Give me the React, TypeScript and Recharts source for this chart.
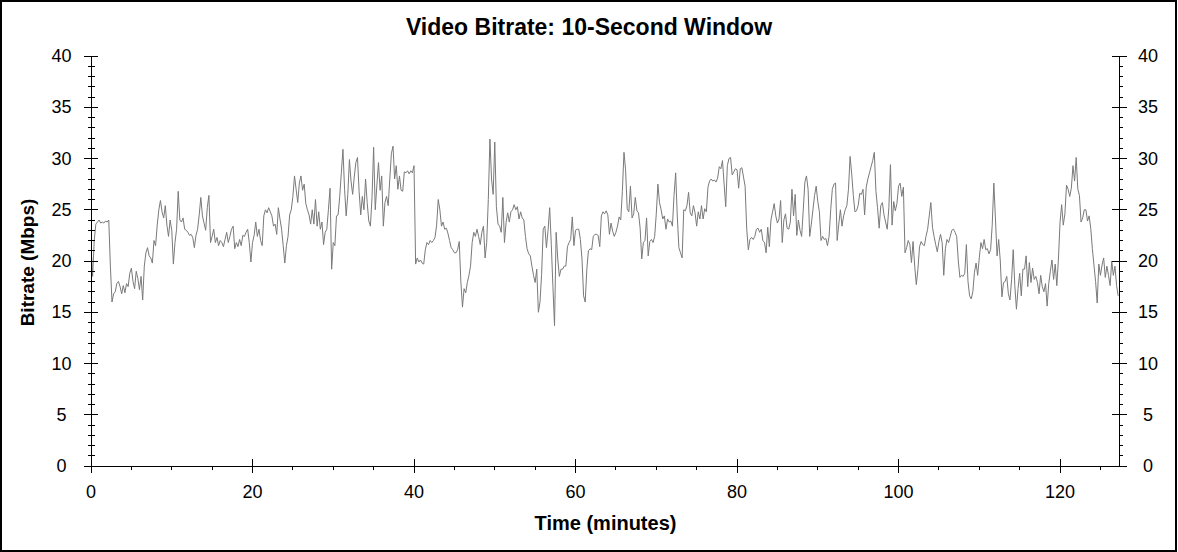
import React from 'react';
import { LineChart, Line, XAxis, YAxis } from 'recharts';

// Sampling step of the series, in minutes
const STEP_MIN = 0.2;

// Video bitrate (Mbps), 0.2-minute steps
const seg1 = [
  21.5, 18.5, 22.0, 23.6,
  23.8, 24.0, 23.7, 23.8, 23.7, 23.9, 23.8, 24.0,
  19.5, 16.0, 16.8, 17.0, 17.8, 18.0, 17.5, 16.8, 17.6, 16.9, 17.8, 17.5,
  18.8, 19.3, 18.0, 17.3, 19.0, 18.3, 17.2, 18.5, 16.2, 19.5, 20.8, 21.3,
  20.5, 20.3, 19.8, 22.0, 21.5, 23.5, 25.0, 25.9, 24.8, 24.2, 25.4, 23.5,
  22.4, 24.0, 23.0, 19.7, 21.8, 23.1, 26.8, 24.0, 23.8, 24.2, 23.1, 23.0,
  22.8, 22.5, 22.6, 22.3, 21.3, 22.5, 23.1, 24.5, 26.2, 24.4, 23.7, 23.0,
  25.2, 26.4, 21.8, 22.4, 23.1, 21.8, 22.3, 21.5, 22.0, 21.8, 21.4, 22.1,
  22.8, 21.8, 22.4, 23.1, 23.4, 21.2, 21.8, 21.4, 22.1, 21.5, 22.5, 22.4,
  22.8, 23.1, 21.8, 19.9, 21.8, 22.5, 23.8, 22.4, 23.1,
];
const seg2 = [
  22.0, 21.5, 24.4, 25.0, 24.7, 25.2, 24.8, 24.4, 23.4, 23.6, 22.6, 25.2,
  24.1, 23.1, 21.5, 19.8, 21.5, 22.4, 24.5, 25.0, 26.3, 28.3, 27.0, 25.7,
  27.6, 28.3, 26.9, 27.5, 25.6, 25.0, 24.5, 23.6, 25.0, 23.6, 26.0, 23.4,
  24.8, 23.1, 23.8, 21.6, 22.8, 23.1, 25.0, 27.1, 19.2, 21.8, 21.5, 24.4,
  24.5, 26.3, 28.6, 30.9, 27.0, 24.4, 26.5, 29.9, 27.8, 26.5, 28.2, 29.6,
  30.1, 26.8, 24.5, 26.3, 25.0, 28.0, 25.7, 23.9, 23.4, 26.2, 31.1, 25.0,
  27.4, 29.6, 26.9, 28.3, 23.4, 25.7, 26.3, 25.4, 28.0, 30.5, 31.2, 28.0,
  29.3, 27.0, 28.3, 26.9, 26.8, 28.7, 28.6, 28.8, 28.5, 28.8, 28.6, 29.3,
  19.7, 20.3, 19.9, 20.1, 19.8, 19.7, 21.1, 21.8, 21.6, 22.0, 21.8,
];
const seg3 = [
  22.0, 22.3, 23.5, 26.0, 25.0, 23.4, 23.8, 23.1, 23.2, 22.7, 22.0, 21.3,
  21.1, 20.8, 20.8, 21.1, 21.9, 18.0, 15.5, 17.3, 16.9, 17.9, 18.6, 19.5,
  21.8, 22.8, 22.4, 23.1, 22.4, 21.6, 22.8, 23.4, 20.3, 21.8, 26.0, 31.9,
  28.0, 26.5, 31.6, 25.3, 23.6, 23.4, 22.8, 26.2, 21.8, 23.75, 24.7, 23.8,
  24.8, 25.0, 25.5, 25.0, 25.3, 24.1, 24.8, 24.2, 24.0, 22.4, 21.2, 20.7,
  20.5, 19.5, 18.6, 17.9, 19.2, 15.0, 16.0, 18.7, 23.1, 23.4, 21.3, 23.0,
  25.2, 21.6, 17.5, 13.7, 22.8, 20.2, 18.5, 19.2, 19.2, 19.5, 19.5, 21.4,
  21.8, 22.1, 24.3, 21.5, 23.0, 23.1, 23.1, 22.1, 20.2, 16.6, 16.0, 19.2,
  21.0, 21.2, 21.1, 22.4, 22.6, 22.6, 22.5, 21.4, 24.4, 24.8, 24.6,
];
const seg4 = [
  24.9, 24.5, 22.6, 23.7, 22.9, 22.4, 22.8, 23.4, 24.3, 24.0, 26.8, 30.6,
  28.9, 25.1, 24.8, 27.3, 24.2, 24.6, 26.2, 24.9, 24.7, 23.2, 20.2, 21.8,
  22.0, 24.2, 20.5, 21.9, 22.1, 21.8, 22.4, 24.6, 27.5, 25.7, 25.0, 24.1,
  24.4, 23.1, 24.1, 23.8, 23.9, 23.4, 26.4, 28.6, 24.4, 21.3, 20.8, 20.3,
  25.0, 24.9, 25.4, 26.7, 24.7, 24.4, 25.4, 24.7, 23.4, 24.8, 24.1, 25.4,
  24.1, 25.1, 24.8, 27.2, 27.8, 28.0, 27.8, 27.9, 27.7, 28.1, 29.2, 29.0,
  29.8, 27.5, 25.3, 29.3, 30.0, 30.1, 28.4, 28.7, 29.0, 28.9, 27.1, 29.0,
  29.1, 28.2, 27.3, 23.1, 21.1, 22.1, 22.3, 22.1, 22.4, 23.1, 23.2, 22.8,
  23.1, 22.0, 21.8, 20.8, 23.3, 21.4, 24.0, 24.8, 25.6, 24.4, 23.7,
];
const seg5 = [
  24.1, 25.9, 21.8, 24.0, 24.6, 23.2, 23.1, 23.8, 27.0, 24.4, 26.5, 22.5,
  24.0, 23.0, 22.4, 25.0, 27.7, 28.3, 27.0, 22.4, 23.6, 25.0, 26.4, 27.3,
  25.8, 24.8, 22.0, 22.4, 22.1, 22.2, 21.5, 22.4, 25.0, 27.0, 27.5, 27.6,
  22.0, 23.6, 25.0, 23.4, 24.4, 25.0, 25.4, 27.0, 30.2, 28.5, 26.4, 24.8,
  24.9, 25.4, 26.6, 26.5, 27.0, 24.5, 27.2, 28.0, 28.6, 29.2, 29.8, 30.6,
  26.8, 25.2, 23.2, 25.4, 25.7, 24.5, 23.8, 23.1, 25.2, 29.4, 23.5, 25.8,
  24.9, 25.6, 27.3, 27.6, 26.3, 27.2, 20.8, 21.3, 22.0, 21.6, 19.85, 21.9,
  19.5, 17.7, 19.2, 21.4, 21.9, 21.6, 21.5, 22.4, 23.1, 24.4, 25.7, 23.3,
  22.4, 21.6, 20.9, 21.9, 22.6, 21.8, 18.6, 21.2, 22.1, 21.8, 22.4,
];
const seg6 = [
  23.0, 23.1, 22.8, 22.4, 20.0, 18.4, 18.6, 18.5, 18.8, 21.6, 18.0, 16.6,
  16.3, 17.0, 18.9, 19.8, 18.6, 20.3, 21.8, 21.2, 22.1, 21.1, 21.2, 20.7,
  21.1, 23.5, 27.6, 24.1, 20.5, 22.1, 20.0, 16.5, 17.9, 18.0, 18.5, 16.8,
  16.2, 18.2, 21.1, 17.6, 15.3, 17.3, 18.8, 16.6, 19.2, 19.2, 20.5, 17.5,
  19.85, 17.9, 19.3, 18.2, 18.5, 17.9, 16.8, 18.6, 17.5, 17.0, 17.8, 15.6,
  17.8, 19.0, 20.1, 18.2, 19.7, 17.6, 20.2, 23.8, 25.5, 23.5, 24.6, 27.4,
  27.0, 26.3, 27.1, 29.3, 27.8, 30.1, 27.0, 26.4, 23.8, 24.2, 25.0, 25.0,
  23.9, 24.4, 23.2, 21.2, 19.6, 18.0, 15.9, 19.7, 18.6, 19.6, 20.3, 18.4,
  19.5, 18.6, 17.6, 20.0, 18.6, 19.5, 17.6, 16.6,
];

const bitrate = [...seg1, ...seg2, ...seg3, ...seg4, ...seg5, ...seg6];

// Tick lists
const xTicks = [0, 5, 10, 15, 20, 25, 30, 35, 40, 45, 50, 55, 60, 65, 70, 75, 80, 85, 90, 95, 100, 105, 110, 115, 120, 125];
const xLabelTicks = [0, 20, 40, 60, 80, 100, 120];
const yTicks = [0, 1, 2, 3, 4, 5, 6, 7, 8, 9, 10, 11, 12, 13, 14, 15, 16, 17, 18, 19, 20, 21, 22, 23, 24, 25, 26, 27, 28, 29, 30, 31, 32, 33, 34, 35, 36, 37, 38, 39, 40];
const yLabelTicks = [0, 5, 10, 15, 20, 25, 30, 35, 40];

const X_MAX = 127.3;
const Y_MAX = 40;

const TITLE = 'Video Bitrate: 10-Second Window';
const X_TITLE = 'Time (minutes)';
const Y_TITLE = 'Bitrate (Mbps)';

const data = bitrate.map((v, i) => ({ t: Math.round(i * STEP_MIN * 100) / 100, v }));

const FONT = '"Liberation Sans", Arial, Helvetica, sans-serif';

const BottomTick = (props: any) => {
  const { x, y, payload } = props;
  const v = payload.value;
  const major = xLabelTicks.includes(v);
  return (
    <g>
      <line x1={x} x2={x} y1={major ? y - 7 : y} y2={major ? y + 7 : y + 4} stroke="#000" shapeRendering="crispEdges" />
      {major && (
        <text x={x} y={y + 32} textAnchor="middle" fontSize={18} fontFamily={FONT} fill="#000">
          {v}
        </text>
      )}
    </g>
  );
};

const TopTick = (props: any) => {
  const { x, y, payload } = props;
  const major = xLabelTicks.includes(payload.value);
  return <line x1={x} x2={x} y1={y} y2={major ? y + 7 : y + 4} stroke="#000" shapeRendering="crispEdges" />;
};

const LeftTick = (props: any) => {
  const { x, y, payload } = props;
  const v = payload.value;
  const major = yLabelTicks.includes(v);
  return (
    <g>
      <line x1={major ? x - 7 : x - 3} x2={major ? x + 7 : x + 4} y1={y} y2={y} stroke="#000" shapeRendering="crispEdges" />
      {major && (
        <text x={x - 29.5} y={y + 6} textAnchor="middle" fontSize={18} fontFamily={FONT} fill="#000">
          {v}
        </text>
      )}
    </g>
  );
};

const RightTick = (props: any) => {
  const { x, y, payload } = props;
  const v = payload.value;
  const major = yLabelTicks.includes(v);
  return (
    <g>
      <line x1={major ? x - 7 : x} x2={major ? x + 8 : x + 4} y1={y} y2={y} stroke="#000" shapeRendering="crispEdges" />
      {major && (
        <text x={x + 29} y={y + 6} textAnchor="middle" fontSize={18} fontFamily={FONT} fill="#000">
          {v}
        </text>
      )}
    </g>
  );
};

const axisLine = { stroke: '#000', strokeWidth: 1, shapeRendering: 'crispEdges' } as any;

export default function App() {
  return (
    <div style={{ position: 'absolute', left: 0, top: 0, width: 1178, height: 552, background: '#fff', fontFamily: FONT }}>
      <LineChart width={1178} height={552} data={data} margin={{ top: 56, right: 0, bottom: 0, left: 0 }}>
        <XAxis
          xAxisId="bottom"
          dataKey="t"
          type="number"
          domain={[0, X_MAX]}
          ticks={xTicks}
          interval={0}
          height={86}
          tickSize={0}
          tickMargin={0}
          tickLine={false}
          axisLine={axisLine}
          tick={<BottomTick />}
          allowDataOverflow
        />
        <XAxis
          xAxisId="top"
          orientation="top"
          dataKey="t"
          type="number"
          domain={[0, X_MAX]}
          ticks={xTicks}
          interval={0}
          height={0}
          tickSize={0}
          tickMargin={0}
          tickLine={false}
          axisLine={axisLine}
          tick={<TopTick />}
          allowDataOverflow
        />
        <YAxis
          yAxisId="left"
          type="number"
          domain={[0, Y_MAX]}
          ticks={yTicks}
          interval={0}
          width={91}
          tickSize={0}
          tickMargin={0}
          tickLine={false}
          axisLine={axisLine}
          tick={<LeftTick />}
          allowDataOverflow
        />
        <YAxis
          yAxisId="right"
          orientation="right"
          type="number"
          domain={[0, Y_MAX]}
          ticks={yTicks}
          interval={0}
          width={59}
          tickSize={0}
          tickMargin={0}
          tickLine={false}
          axisLine={axisLine}
          tick={<RightTick />}
          allowDataOverflow
        />
        <Line
          xAxisId="bottom"
          yAxisId="left"
          type="linear"
          dataKey="v"
          stroke="#7a7a7a"
          strokeWidth={1}
          dot={false}
          activeDot={false}
          isAnimationActive={false}
        />
      </LineChart>
      <svg width={1178} height={552} style={{ position: 'absolute', left: 0, top: 0, pointerEvents: 'none' }}>
        <rect x={1} y={1} width={1175} height={550} fill="none" stroke="#000" strokeWidth={2} />
        <text x={589} y={34.5} textAnchor="middle" fontSize={23} fontWeight="bold" fontFamily={FONT} fill="#000">
          {TITLE}
        </text>
        <text x={605.5} y={529.5} textAnchor="middle" fontSize={20} fontWeight="bold" fontFamily={FONT} fill="#000">
          {X_TITLE}
        </text>
        <text transform="translate(33.5,262.5) rotate(-90)" textAnchor="middle" fontSize={19} fontWeight="bold" fontFamily={FONT} fill="#000">
          {Y_TITLE}
        </text>
      </svg>
    </div>
  );
}
